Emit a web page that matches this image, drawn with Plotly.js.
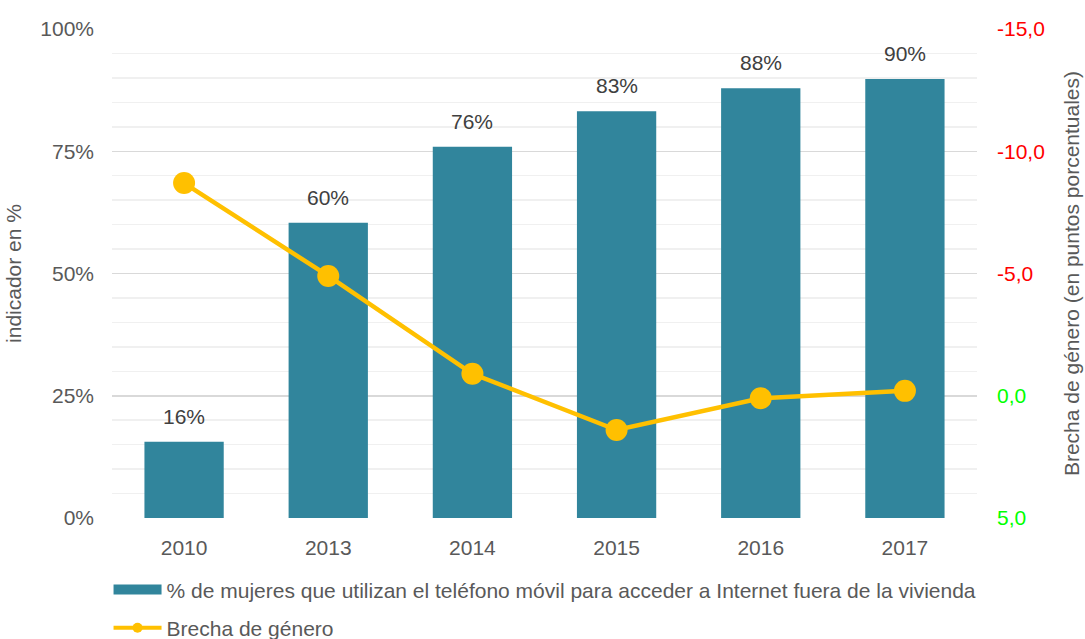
<!DOCTYPE html>
<html>
<head>
<meta charset="utf-8">
<script src="https://cdn.plot.ly/plotly-3.0.1.min.js"></script>
<style>html,body{margin:0;padding:0;background:#fff}#chart{width:1085px;height:639px}</style>
</head>
<body>
<div id="chart"></div>
<script>
const years = ["2010", "2013", "2014", "2015", "2016", "2017"];
const mujeresMovil = [15.6, 60.4, 75.9, 83.2, 87.9, 89.8];
const brechaGenero = [-8.7, -4.9, -0.9, 1.4, 0.1, -0.2];
const leftTickVals = [0, 25, 50, 75, 100];
const leftTickText = ["0%", "25%", "50%", "75%", "100%"];
const rightTickVals = [-15, -10, -5, 0, 5];
const rightTickText = ["-15,0", "-10,0", "-5,0", "0,0", "5,0"];
const barName = "% de mujeres que utilizan el teléfono móvil para acceder a Internet fuera de la vivienda";
const lineName = "Brecha de género";

const font = "Liberation Sans, Arial, sans-serif";
const grey = "#595959";
const teal = "#31859c";
const gold = "#ffc000";

const rightText = rightTickText.map((t, i) =>
  '<span style="fill:' + (rightTickVals[i] < 0 ? '#ff0000' : '#00ff00') + '">' + t + '</span>');

const traces = [
  {
    type: "bar", x: years, y: mujeresMovil, name: barName, showlegend: false,
    marker: {color: teal}, width: 0.55, hoverinfo: "x+y"
  },
  {
    type: "scatter", mode: "lines+markers", x: years, y: brechaGenero, name: lineName,
    yaxis: "y2", line: {color: gold, width: 4.5}, marker: {color: gold, size: 22},
    cliponaxis: false, showlegend: false
  },
  // legend entries (no visible data)
  {
    type: "scatter", mode: "lines", x: [years[0]], y: [null], name: barName,
    line: {color: teal, width: 10}, legendgroup: "a", hoverinfo: "skip"
  },
  {
    type: "scatter", mode: "lines+markers", x: [years[0]], y: [null], name: lineName, yaxis: "y2",
    line: {color: gold, width: 4}, marker: {color: gold, size: 10}, legendgroup: "b", hoverinfo: "skip"
  }
];

const annotations = years.map((yr, i) => ({
  x: i, y: mujeresMovil[i], xref: "x", yref: "y",
  text: Math.round(mujeresMovil[i]) + "%", showarrow: false,
  yanchor: "bottom", yshift: 12,
  font: {family: font, size: 21, color: "#404040"}
}));

const layout = {
  width: 1085, height: 639,
  margin: {l: 112, r: 108, t: 29, b: 121, autoexpand: false},
  paper_bgcolor: "#fff", plot_bgcolor: "#fff",
  font: {family: font, size: 21, color: grey},
  bargap: 0.45,
  showlegend: true,
  annotations: annotations,
  legend: {
    orientation: "v", x: -0.004, xanchor: "left", y: -0.105, yanchor: "top",
    font: {family: font, size: 21, color: grey}, tracegroupgap: 8, itemwidth: 48,
    traceorder: "grouped"
  },
  xaxis: {
    type: "category", categoryorder: "array", categoryarray: years, range: [-0.5, 5.5],
    showgrid: false, zeroline: false, showline: false,
    ticks: "", ticklabelstandoff: 15, tickfont: {size: 21, color: grey}
  },
  yaxis: {
    range: [0, 100], tickvals: leftTickVals, ticktext: leftTickText,
    showgrid: true, gridcolor: "#d9d9d9", gridwidth: 1.5, zeroline: false,
    minor: {dtick: 5, showgrid: true, gridcolor: "#f0f0f0", gridwidth: 1.5},
    ticks: "", ticklabelstandoff: 17, tickfont: {size: 21, color: grey},
    title: {text: "indicador en %", font: {size: 21, color: grey}, standoff: 12}
  },
  yaxis2: {
    overlaying: "y", side: "right", range: [5, -15],
    tickvals: rightTickVals, ticktext: rightText,
    showgrid: false, zeroline: false, ticks: "", ticklabelstandoff: 19,
    tickfont: {size: 21},
    title: {text: "Brecha de género (en puntos porcentuales)", font: {size: 21, color: grey}, standoff: 20}
  }
};

Plotly.newPlot("chart", traces, layout, {displayModeBar: false, staticPlot: true});
</script>
</body>
</html>
